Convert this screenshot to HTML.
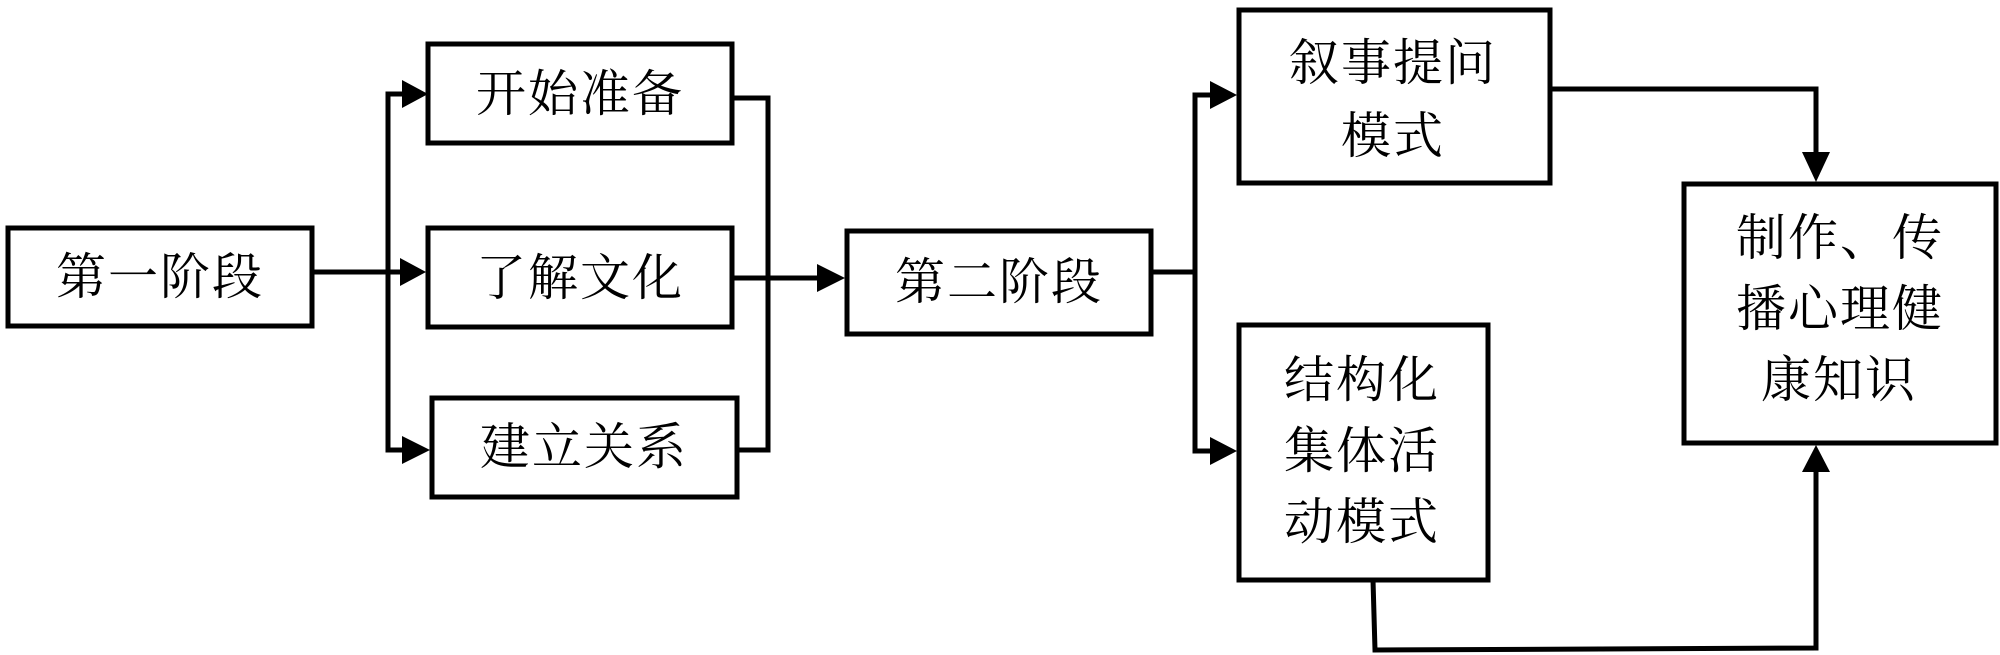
<!DOCTYPE html>
<html><head><meta charset="utf-8"><style>
html,body{margin:0;padding:0;background:#fff;}
svg{display:block}
text{font-family:"Liberation Serif","Noto Serif CJK SC",serif;font-size:50px;fill:#000;text-anchor:middle;dominant-baseline:central;letter-spacing:2px}
</style></head><body>
<svg width="2000" height="655" viewBox="0 0 2000 655" xmlns="http://www.w3.org/2000/svg">
<g fill="none" stroke="#000" stroke-width="5">
<rect x="8" y="228" width="304" height="98"/>
<rect x="428" y="44" width="304" height="99"/>
<rect x="428" y="228" width="304" height="99"/>
<rect x="432" y="398" width="305" height="99"/>
<rect x="847" y="231" width="304" height="103"/>
<rect x="1239" y="10" width="311" height="173"/>
<rect x="1239" y="325" width="249" height="255"/>
<rect x="1684" y="184" width="312" height="259"/>
<polyline points="312,272 388,272"/>
<polyline points="402,94 388,94 388,450 402,450"/>
<polyline points="388,272 402,272"/>
<polyline points="732,98 768,98 768,450 737,450"/>
<polyline points="732,278 818,278"/>
<polyline points="1151,272 1195,272"/>
<polyline points="1212,95 1195,95 1195,451 1212,451"/>
<polyline points="1550,89 1816,89 1816,154"/>
<polyline points="1373,580 1375,650 1816,648 1816,470"/>
</g>
<g fill="#000">
<polygon points="402,80 428,94 402,108"/>
<polygon points="400,258 426,272 400,286"/>
<polygon points="402,436 430,450 402,464"/>
<polygon points="817,264 845,278 817,292"/>
<polygon points="1210,81 1237,95 1210,109"/>
<polygon points="1210,437 1237,451 1210,465"/>
<polygon points="1802,152 1830,152 1816,182"/>
<polygon points="1802,472 1830,472 1816,445"/>
</g>
<text x="160" y="277">第一阶段</text>
<text x="580" y="94">开始准备</text>
<text x="580" y="278">了解文化</text>
<text x="584" y="447">建立关系</text>
<text x="999" y="282">第二阶段</text>
<text x="1393" y="63">叙事提问</text>
<text x="1393" y="136">模式</text>
<text x="1362" y="380">结构化</text>
<text x="1362" y="451">集体活</text>
<text x="1362" y="522">动模式</text>
<text x="1840" y="238">制作、传</text>
<text x="1840" y="309">播心理健</text>
<text x="1839" y="380">康知识</text>
</svg>
</body></html>
